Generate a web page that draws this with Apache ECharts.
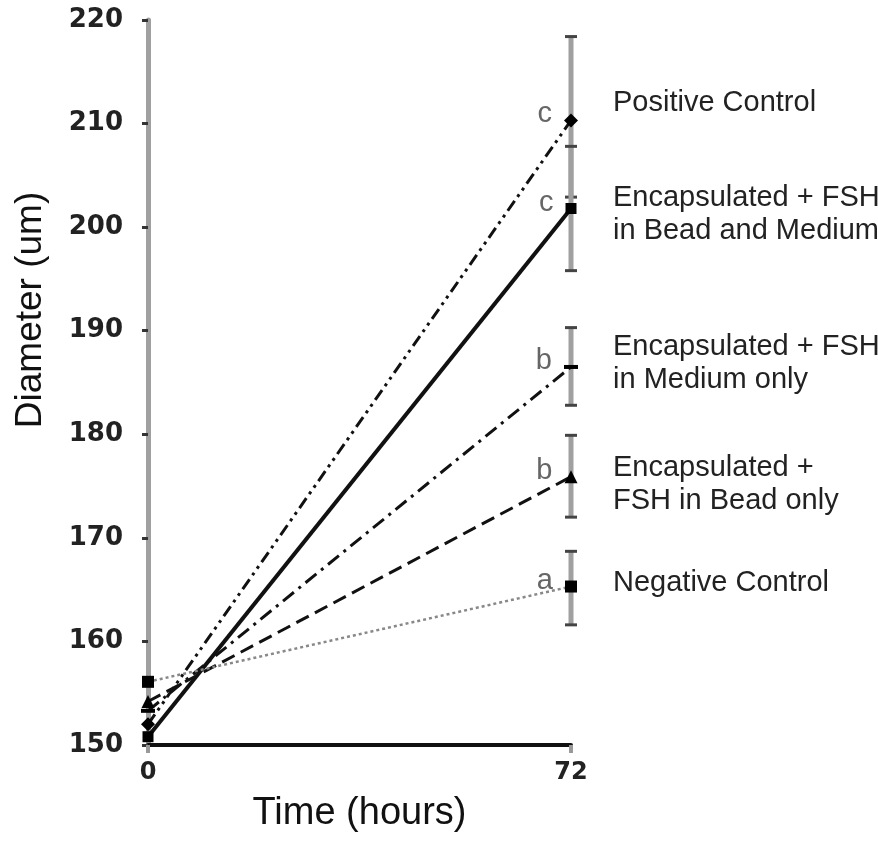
<!DOCTYPE html>
<html>
<head>
<meta charset="utf-8">
<script src="https://cdn.jsdelivr.net/npm/echarts@6/dist/echarts.min.js"></script>
<style>
html,body{margin:0;padding:0;background:#fff;}
#chart{width:878px;height:844px;}
</style>
</head>
<body>
<div id="chart"></div>
<script>
// ---- data ----
const times = [0, 72];
const groups = ['Positive Control', 'Encapsulated + FSH\nin Bead and Medium', 'Encapsulated + FSH\nin Medium only', 'Encapsulated +\nFSH in Bead only', 'Negative Control'];
const startValues = [152.0, 150.8, 153.3, 154.2, 156.1];
const endValues = [210.3, 201.8, 186.5, 175.9, 165.3];
const errLow = [202.9, 195.8, 182.8, 172.0, 161.6];
const errHigh = [218.4, 207.8, 190.3, 179.9, 168.7];
const letters = ['c', 'c', 'b', 'b', 'a'];
const labelValues = [212.0, 201.2, 186.8, 175.2, 165.6];
const yTicks = [150, 160, 170, 180, 190, 200, 210, 220];
const xTicks = [0, 72];

// ---- styles ----
const lineStyles = [
  {color: '#111', width: 3, type: [12, 5, 3, 5, 3, 5]},
  {color: '#111', width: 4, type: 'solid'},
  {color: '#111', width: 3, type: [14, 6, 3, 6]},
  {color: '#111', width: 3, type: [14, 7]},
  {color: '#888', width: 2.5, type: [3, 3]}
];
const symbols = ['diamond', 'rect', 'rect', 'triangle', 'rect'];
const symbolSizes = [14, 11, [14, 4], 13, 12];

const chart = echarts.init(document.getElementById('chart'), null, {renderer: 'canvas'});

const lineSeries = groups.map((g, i) => ({
  name: g,
  type: 'line',
  z: 5,
  data: [
    {value: [times[0], startValues[i]]},
    {value: [times[1], endValues[i]], label: {
      show: true, formatter: letters[i], position: 'left', distance: 12, offset: [0, -6],
      fontFamily: 'Liberation Sans', fontSize: 29, color: '#666'
    }}
  ],
  symbol: symbols[i],
  symbolSize: symbolSizes[i],
  showSymbol: true,
  itemStyle: {color: '#000'},
  lineStyle: lineStyles[i],
  animation: false
}));

const errorSeries = {
  type: 'custom',
  z: 2,
  data: groups.map((g, i) => [times[1], errLow[i], errHigh[i]]),
  renderItem: function (params, api) {
    const lo = api.coord([api.value(0), api.value(1)]);
    const hi = api.coord([api.value(0), api.value(2)]);
    const capW = 6;
    return {
      type: 'group',
      children: [
        {type: 'line', shape: {x1: lo[0], y1: lo[1], x2: hi[0], y2: hi[1]}, style: {stroke: '#a0a0a0', lineWidth: 5}},
        {type: 'line', shape: {x1: lo[0] - capW, y1: lo[1], x2: lo[0] + capW, y2: lo[1]}, style: {stroke: '#444', lineWidth: 3}},
        {type: 'line', shape: {x1: hi[0] - capW, y1: hi[1], x2: hi[0] + capW, y2: hi[1]}, style: {stroke: '#444', lineWidth: 3}}
      ]
    };
  },
  animation: false
};

const textSeries = {
  type: 'custom',
  z: 6,
  data: groups.map((g, i) => [times[1], labelValues[i], i]),
  renderItem: function (params, api) {
    const p = api.coord([api.value(0), api.value(1)]);
    const idx = api.value(2);
    return {
      type: 'text',
      x: p[0] + 42,
      y: p[1],
      style: {
        text: groups[idx],
        fontFamily: 'Liberation Sans',
        fontSize: 29,
        lineHeight: 33,
        fill: '#222',
        align: 'left',
        verticalAlign: 'middle'
      }
    };
  },
  animation: false
};

chart.setOption({
  backgroundColor: '#fff',
  animation: false,
  grid: {left: 148, right: 307, top: 20, bottom: 99, containLabel: false},
  xAxis: {
    type: 'value',
    min: xTicks[0],
    max: xTicks[xTicks.length - 1],
    interval: xTicks[1] - xTicks[0],
    name: 'Time (hours)',
    nameLocation: 'middle',
    nameGap: 50,
    nameTextStyle: {fontFamily: 'Liberation Sans', fontSize: 38, color: '#111'},
    axisLine: {show: true, onZero: false, lineStyle: {color: '#111', width: 4}},
    axisTick: {show: true, length: 8, lineStyle: {color: '#999', width: 4}},
    axisLabel: {margin: 16, fontFamily: 'DejaVu Sans', fontWeight: 'bold', fontSize: 24, color: '#222'},
    splitLine: {show: false}
  },
  yAxis: {
    type: 'value',
    min: yTicks[0],
    max: yTicks[yTicks.length - 1],
    interval: 10,
    axisLine: {show: true, onZero: false, lineStyle: {color: '#a0a0a0', width: 5}},
    axisTick: {show: true, length: 6, lineStyle: {color: '#333', width: 3}},
    axisLabel: {margin: 25, fontFamily: 'DejaVu Sans', fontWeight: 'bold', fontSize: 26, color: '#222'},
    splitLine: {show: false}
  },
  graphic: [{
    type: 'text',
    x: 31,
    y: 310,
    rotation: Math.PI / 2,
    style: {
      text: 'Diameter (um)',
      fontFamily: 'Liberation Sans',
      fontSize: 37,
      fill: '#111',
      align: 'center',
      verticalAlign: 'middle'
    }
  }],
  series: [errorSeries].concat(lineSeries).concat([textSeries])
});
</script>
</body>
</html>
